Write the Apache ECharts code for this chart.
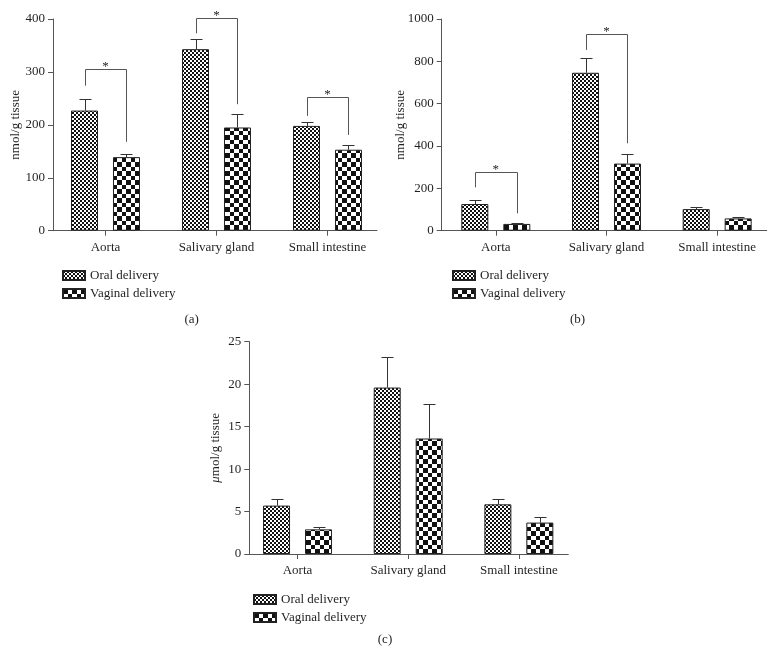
<!DOCTYPE html>
<html>
<head>
<meta charset="utf-8">
<script src="https://cdn.jsdelivr.net/npm/echarts@6/dist/echarts.min.js"></script>
<style>
  html, body { margin: 0; padding: 0; background: #ffffff; }
  #chart { width: 775px; height: 667px; }
</style>
</head>
<body>
<div id="chart"></div>
<script>
// ---------------- DATA ----------------
const categories = ['Aorta', 'Salivary gland', 'Small intestine'];
const seriesNames = ['Oral delivery', 'Vaginal delivery'];

// Panel (a): nmol/g tissue
const aOral = [227, 343, 198];
const aOralErr = [21, 19, 8];
const aVag = [139, 195, 153];
const aVagErr = [5, 25, 8];
// significance brackets: [categoryIndex, top, leftLegBottom, rightLegBottom]
const aBrackets = [[0, 305, 274, 168], [1, 401, 373, 239], [2, 253, 217, 181]];
const aTicks = { max: 400, interval: 100 };

// Panel (b): nmol/g tissue
const bOral = [126, 746, 102];
const bOralErr = [19, 68, 11];
const bVag = [32, 317, 58];
const bVagErr = [6, 47, 8];
const bBrackets = [[0, 277, 205, 82], [1, 928, 854, 413]];
const bTicks = { max: 1000, interval: 200 };

// Panel (c): µmol/g tissue
const cOral = [5.7, 19.6, 5.85];
const cOralErr = [0.8, 3.6, 0.65];
const cVag = [2.9, 13.6, 3.7];
const cVagErr = [0.3, 4.1, 0.6];
const cBrackets = [];
const cTicks = { max: 25, interval: 5 };

const panelLabels = ['(a)', '(b)', '(c)'];

// ---------------- STYLE ----------------
const FONT = "'Liberation Serif', 'Times New Roman', serif";
const TEXT = '#231f20';
const AXIS = '#555555';
const BAR_W = 27;
const BAR_GAP = 0.555;
const OFFSET = (BAR_W + BAR_W * BAR_GAP) / 2;

function checker(a, b) {
  const n = a + b;
  const c = document.createElement('canvas');
  c.width = n; c.height = n;
  const g = c.getContext('2d');
  g.fillStyle = '#ffffff'; g.fillRect(0, 0, n, n);
  g.fillStyle = '#111111';
  g.fillRect(0, 0, a, a);
  g.fillRect(a, a, b, b);
  return c;
}
const oralPattern = { image: checker(2, 2), repeat: 'repeat' };
const vagPattern = { image: checker(5, 4), repeat: 'repeat' };

// layouts: frame = visible axis box; data = category band grid
const panels = [
  { oral: aOral, oErr: aOralErr, vag: aVag, vErr: aVagErr, br: aBrackets, ticks: aTicks,
    name: 'nmol/g tissue', nameGap: 31,
    frame: { left: 53, top: 19, width: 324, height: 211.7 },
    data: { left: 50, top: 19, width: 333, height: 211.7 },
    legend: { left: 57, top: 264 }, label: [191.7, 320] },
  { oral: bOral, oErr: bOralErr, vag: bVag, vErr: bVagErr, br: bBrackets, ticks: bTicks,
    name: 'nmol/g tissue', nameGap: 35,
    frame: { left: 441.7, top: 19, width: 325, height: 211.7 },
    data: { left: 440.5, top: 19, width: 332, height: 211.7 },
    legend: { left: 447, top: 264 }, label: [577.5, 320] },
  { oral: cOral, oErr: cOralErr, vag: cVag, vErr: cVagErr, br: cBrackets, ticks: cTicks,
    name: '{i|\u03bc}mol/g tissue', nameGap: 27,
    frame: { left: 249.3, top: 341.7, width: 319, height: 212.3 },
    data: { left: 242.2, top: 341.7, width: 332, height: 212.3 },
    legend: { left: 248, top: 588 }, label: [385, 640] }
];

const grid = [], xAxis = [], yAxis = [], series = [], legend = [], graphic = [];

function errRender(params, api) {
  const cat = api.value(0), v = api.value(1), e = api.value(2), side = api.value(3);
  const p0 = api.coord([cat, v]);
  const p1 = api.coord([cat, v + e]);
  const x = Math.round(p0[0] + side * OFFSET) + 0.5;
  const y1 = Math.round(p1[1]) + 0.5;
  return {
    type: 'group',
    children: [
      { type: 'line', shape: { x1: x, y1: p0[1], x2: x, y2: y1 }, style: { stroke: '#333', lineWidth: 1 } },
      { type: 'line', shape: { x1: x - 6, y1: y1, x2: x + 6, y2: y1 }, style: { stroke: '#333', lineWidth: 1 } }
    ]
  };
}

function bracketRender(params, api) {
  const cat = api.value(0);
  const top = api.coord([cat, api.value(1)]);
  const lb = api.coord([cat, api.value(2)]);
  const rb = api.coord([cat, api.value(3)]);
  const xl = Math.round(top[0] - OFFSET) + 0.5;
  const xr = Math.round(top[0] + OFFSET) + 0.5;
  const yt = Math.round(top[1]) + 0.5;
  return {
    type: 'group',
    children: [
      { type: 'polyline', shape: { points: [[xl, lb[1]], [xl, yt], [xr, yt], [xr, rb[1]]] },
        style: { stroke: '#555', lineWidth: 1, fill: null } },
      { type: 'text', x: top[0], y: yt - 3,
        style: { text: '*', fontFamily: FONT, fontSize: 13, fill: TEXT, align: 'center', verticalAlign: 'middle' } }
    ]
  };
}

panels.forEach(function (p, i) {
  const gf = i * 2, gd = i * 2 + 1;
  grid.push(Object.assign({ containLabel: false }, p.frame));
  grid.push(Object.assign({ containLabel: false }, p.data));

  // frame axes
  xAxis.push({ gridIndex: gf, type: 'category', data: categories,
    axisLine: { show: true, lineStyle: { color: AXIS, width: 1 } },
    axisTick: { show: false }, axisLabel: { show: false }, splitLine: { show: false } });
  yAxis.push({ gridIndex: gf, type: 'value', min: 0, max: p.ticks.max, interval: p.ticks.interval,
    name: p.name, nameLocation: 'middle', nameGap: p.nameGap, nameRotate: 90,
    nameMoveOverlap: false,
    nameTextStyle: { fontFamily: FONT, fontSize: 13, color: TEXT,
      rich: { i: { fontFamily: FONT, fontSize: 13, color: TEXT, fontStyle: 'italic' } } },
    axisLine: { show: true, lineStyle: { color: AXIS, width: 1 } },
    axisTick: { show: true, length: 5, lineStyle: { color: AXIS } },
    axisLabel: { fontFamily: FONT, fontSize: 13, color: TEXT, margin: 8,
      formatter: function (v) { return String(v); } },
    splitLine: { show: false } });

  // data axes
  xAxis.push({ gridIndex: gd, type: 'category', data: categories,
    axisLine: { show: false },
    axisTick: { show: true, alignWithLabel: true, length: 5, lineStyle: { color: AXIS } },
    axisLabel: { fontFamily: FONT, fontSize: 13, color: TEXT, margin: 10 },
    splitLine: { show: false } });
  yAxis.push({ gridIndex: gd, type: 'value', min: 0, max: p.ticks.max, interval: p.ticks.interval, show: false });

  series.push({ name: seriesNames[0], type: 'bar', xAxisIndex: gd, yAxisIndex: gd,
    data: p.oral, barWidth: BAR_W, barGap: (BAR_GAP * 100) + '%',
    itemStyle: { color: oralPattern, borderColor: '#222', borderWidth: 1 } });
  series.push({ name: seriesNames[1], type: 'bar', xAxisIndex: gd, yAxisIndex: gd,
    data: p.vag, barWidth: BAR_W, barGap: (BAR_GAP * 100) + '%',
    itemStyle: { color: vagPattern, borderColor: '#222', borderWidth: 1 } });

  const errData = [];
  p.oral.forEach(function (v, k) { errData.push([k, v, p.oErr[k], -1]); });
  p.vag.forEach(function (v, k) { errData.push([k, v, p.vErr[k], 1]); });
  series.push({ type: 'custom', xAxisIndex: gd, yAxisIndex: gd, renderItem: errRender,
    data: errData, z: 5, silent: true });

  if (p.br.length) {
    series.push({ type: 'custom', xAxisIndex: gd, yAxisIndex: gd, renderItem: bracketRender,
      data: p.br, z: 5, silent: true, clip: false });
  }

  legend.push({ orient: 'vertical', left: p.legend.left, top: p.legend.top,
    data: seriesNames, icon: 'rect', itemWidth: 22, itemHeight: 9, itemGap: 5,
    textStyle: { fontFamily: FONT, fontSize: 13, color: TEXT },
    selectedMode: false });

  graphic.push({ type: 'text', x: p.label[0], y: p.label[1],
    style: { text: panelLabels[i], fontFamily: FONT, fontSize: 13, fill: TEXT, align: 'center', verticalAlign: 'middle' } });
});

const chart = echarts.init(document.getElementById('chart'), null, { renderer: 'canvas' });
chart.setOption({
  animation: false,
  backgroundColor: '#ffffff',
  grid: grid, xAxis: xAxis, yAxis: yAxis, series: series, legend: legend, graphic: graphic
});
</script>
</body>
</html>
